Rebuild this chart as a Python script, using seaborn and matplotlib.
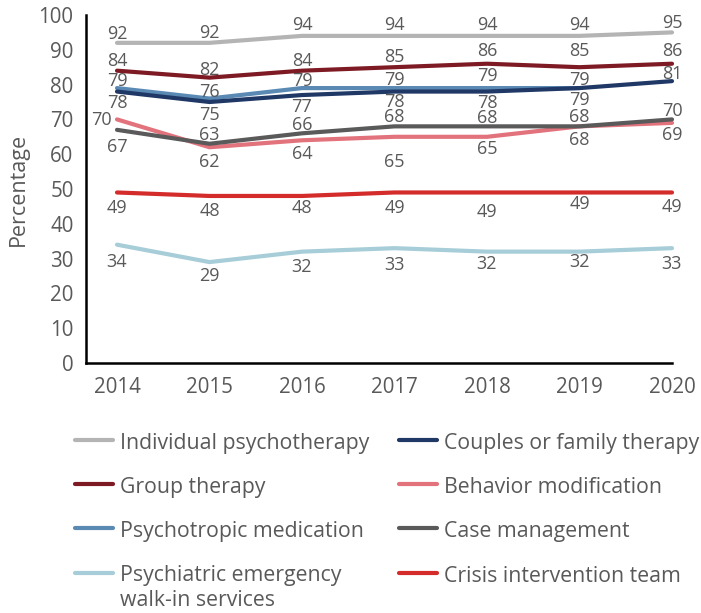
"""
Share of facilities offering each treatment approach, 2014-2020
"""

import matplotlib
matplotlib.use("Agg")
import matplotlib.pyplot as plt
import numpy as np
import pandas as pd
import seaborn as sns

years = [2014, 2015, 2016, 2017, 2018, 2019, 2020]

individual = [92, 92, 94, 94, 94, 94, 95]
group = [84, 82, 84, 85, 86, 85, 86]
psychotropic = [79, 76, 79, 79, 79, 79, np.nan]
couples = [78, 75, 77, 78, 78, 79, 81]
case_mgmt = [67, 63, 66, 68, 68, 68, 70]
behavior = [70, 62, 64, 65, 65, 68, 69]
crisis = [49, 48, 48, 49, 49, 49, 49]
walk_in = [34, 29, 32, 33, 32, 32, 33]

names = ["Individual psychotherapy", "Couples or family therapy", "Group therapy",
         "Behavior modification", "Psychotropic medication", "Case management",
         "Psychiatric emergency\nwalk-in services", "Crisis intervention team"]
values = [individual, couples, group, behavior, psychotropic, case_mgmt, walk_in, crisis]
colors = ["#b4b4b4", "#1f3866", "#7d1a24", "#e2727b", "#5a89b4", "#5a5a5a", "#a6cdd8", "#d42b2b"]

# where each value label sits, in pixels from its point (+ = above)
label_dy = [
    [11, 12, 12.5, 12.5, 12.5, 12.5, 11.5],
    [-9, -11, -10, -8.5, -9.5, -10, 9],
    [11.5, 9.5, 11.5, 12, 14.5, 18, 14.5],
    [1, -13, -11.5, -23, -10, -12, -10.5],
    [9, 9, 9, 10.5, 14, 10.5, 0],
    [-15, 11, 10, 11, 10, 11, 10],
    [-15, -12, -13.5, -15, -10, -8.5, -13.5],
    [-13.5, -13, -10, -14, -17.5, -10, -12.5],
]
label_dx = {(3, 0): -16}

rows = []
for name, vals in zip(names, values):
    for y, v in zip(years, vals):
        rows.append({"year": y, "pct": v, "series": name})
df = pd.DataFrame(rows)

sns.set_style("white")
plt.rcParams["font.family"] = ["Open Sans", "DejaVu Sans"]
grey = "#595959"

fig = plt.figure(figsize=(7.01, 6.13), dpi=100)
ax = fig.add_axes([86 / 701, 1 - 363 / 613, 586 / 701, 348 / 613])

draw_order = [0, 2, 4, 1, 3, 5, 6, 7]
for i in draw_order:
    sub = df[df["series"] == names[i]].dropna()
    sns.lineplot(data=sub, x="year", y="pct", color=colors[i], lw=3.0, ax=ax,
                 legend=False, solid_capstyle="round", clip_on=False)

for i, vals in enumerate(values):
    for j, (y, v) in enumerate(zip(years, vals)):
        if np.isnan(v):
            continue
        ax.annotate(f"{int(v)}", (y, v), xytext=(label_dx.get((i, j), 0), label_dy[i][j]),
                    textcoords="offset pixels", ha="center", va="center_baseline",
                    fontsize=13, color=grey)

ax.set_xlim(2014 - 31 / 92.5, 2020)
ax.set_ylim(0, 100)
ax.set_xticks(years)
ax.set_yticks(range(0, 101, 10))
ax.tick_params(axis="both", length=0, labelsize=14.8, labelcolor=grey)
ax.tick_params(axis="x", pad=10)
ax.tick_params(axis="y", pad=9)
ax.set_xlabel("")
ax.set_ylabel("Percentage", fontsize=15.5, color=grey)
ax.yaxis.set_label_coords(-0.097, 0.5)
sns.despine(ax=ax)
for s in ["left", "bottom"]:
    ax.spines[s].set_color("black")
    ax.spines[s].set_linewidth(1.8)

# legend, two columns
W, H = 701, 613
row_y = [440, 484, 528, 573]
for k in range(8):
    col, r = k % 2, k // 2
    x0 = 75 if col == 0 else 399
    yy = 1 - row_y[r] / H
    fig.add_artist(plt.Line2D([x0 / W, (x0 + 38) / W], [yy, yy], color=colors[k],
                              lw=3.0, solid_capstyle="round"))
    extra = names[k].count("\n") * 23.5
    fig.text((x0 + 45) / W, 1 - (row_y[r] + 9 + extra) / H, names[k], ha="left",
             va="baseline", fontsize=15.3, color=grey, linespacing=1.25)

fig.savefig("out.png", dpi=100)
